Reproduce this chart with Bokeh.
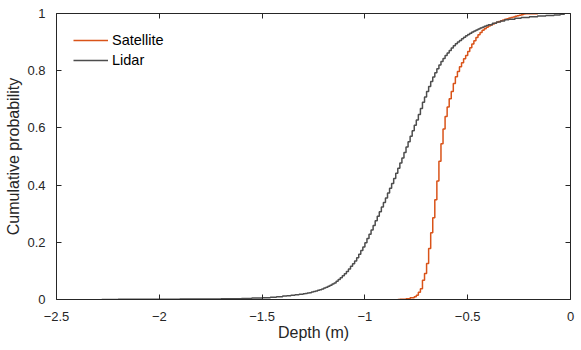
from bokeh.plotting import figure
from bokeh.models import Range1d, LinearAxis, FixedTicker, Legend, LegendItem
from bokeh.embed import file_html
from bokeh.resources import INLINE

# ---------------- data ----------------
sat_depth = [-0.84, -0.83, -0.80, -0.78, -0.76, -0.75, -0.74, -0.73, -0.72, -0.71,
             -0.70, -0.69, -0.68, -0.67, -0.66, -0.65, -0.64, -0.63, -0.62, -0.61,
             -0.60, -0.59, -0.58, -0.57, -0.56, -0.55, -0.54, -0.53, -0.52, -0.51,
             -0.50, -0.49, -0.48, -0.47, -0.46, -0.45, -0.44, -0.43, -0.42, -0.41,
             -0.40, -0.39, -0.38, -0.37, -0.36, -0.35, -0.34, -0.33, -0.32, -0.31,
             -0.30, -0.29, -0.28, -0.27, -0.26, -0.25, -0.24, -0.23, -0.22, -0.16]
sat_cdf = [0.000, 0.001, 0.003, 0.006, 0.010, 0.015, 0.025, 0.038, 0.067, 0.091,
           0.126, 0.178, 0.233, 0.286, 0.349, 0.414, 0.483, 0.545, 0.596, 0.640,
           0.673, 0.702, 0.727, 0.755, 0.779, 0.797, 0.814, 0.828, 0.842, 0.853,
           0.867, 0.880, 0.893, 0.905, 0.916, 0.926, 0.934, 0.941, 0.947, 0.952,
           0.956, 0.960, 0.963, 0.966, 0.969, 0.972, 0.975, 0.977, 0.980, 0.982,
           0.984, 0.986, 0.988, 0.990, 0.992, 0.994, 0.996, 0.998, 0.999, 1.000]

lidar_depth = [-2.28, -2.20, -2.10, -2.00, -1.90, -1.80, -1.70, -1.60, -1.55, -1.50,
               -1.46, -1.43, -1.40, -1.38, -1.36, -1.34, -1.32,
               -1.30, -1.29, -1.28, -1.27, -1.26, -1.25, -1.24, -1.23, -1.22, -1.21,
               -1.20, -1.19, -1.18, -1.17, -1.16, -1.15, -1.14, -1.13, -1.12, -1.11,
               -1.10, -1.09, -1.08, -1.07, -1.06, -1.05, -1.04, -1.03, -1.02, -1.01,
               -1.00, -0.99, -0.98, -0.97, -0.96, -0.95, -0.94, -0.93, -0.92, -0.91,
               -0.90, -0.89, -0.88, -0.87, -0.86, -0.85, -0.84, -0.83, -0.82, -0.81,
               -0.80, -0.79, -0.78, -0.77, -0.76, -0.75, -0.74, -0.73, -0.72, -0.71,
               -0.70, -0.69, -0.68, -0.67, -0.66, -0.65, -0.64, -0.63, -0.62, -0.61,
               -0.60, -0.59, -0.58, -0.57, -0.56, -0.55, -0.54, -0.53, -0.52, -0.51,
               -0.50, -0.49, -0.48, -0.47, -0.46, -0.45, -0.44, -0.43, -0.42, -0.41,
               -0.40, -0.38, -0.36, -0.34, -0.32, -0.30, -0.27, -0.24, -0.20, -0.16,
               -0.12, -0.08, -0.05, -0.03]
lidar_cdf = [0.0000, 0.0005, 0.0008, 0.0012, 0.0016, 0.0021, 0.0028, 0.0038, 0.0050, 0.0065,
             0.0080, 0.0100, 0.0120, 0.0135, 0.0150, 0.0165, 0.0180,
             0.020, 0.021, 0.023, 0.024, 0.026, 0.028, 0.030, 0.032, 0.034, 0.037,
             0.040, 0.043, 0.046, 0.050, 0.054, 0.058, 0.064, 0.070, 0.076, 0.083,
             0.090, 0.098, 0.107, 0.116, 0.125, 0.135, 0.146, 0.158, 0.171, 0.184,
             0.198, 0.213, 0.228, 0.243, 0.259, 0.275, 0.291, 0.307, 0.323, 0.339,
             0.355, 0.372, 0.389, 0.406, 0.423, 0.441, 0.459, 0.477, 0.495, 0.514,
             0.533, 0.552, 0.571, 0.590, 0.609, 0.628, 0.647, 0.668, 0.690, 0.708,
             0.727, 0.745, 0.762, 0.778, 0.793, 0.807, 0.820, 0.832, 0.843, 0.853,
             0.862, 0.871, 0.879, 0.887, 0.894, 0.900, 0.906, 0.912, 0.917, 0.922,
             0.927, 0.931, 0.935, 0.939, 0.942, 0.946, 0.949, 0.952, 0.955, 0.958,
             0.961, 0.966, 0.970, 0.974, 0.978, 0.980, 0.983, 0.986, 0.989, 0.991,
             0.993, 0.995, 0.997, 1.000]

x_ticks = [-2.5, -2.0, -1.5, -1.0, -0.5, 0.0]
x_tick_labels = ["\u22122.5", "\u22122", "\u22121.5", "\u22121", "\u22120.5", "0"]
y_ticks = [0.0, 0.2, 0.4, 0.6, 0.8, 1.0]
y_tick_labels = ["0", "0.2", "0.4", "0.6", "0.8", "1"]

series_names = ["Satellite", "Lidar"]
series_colors = ["#D95319", "#4D4D4D"]

# ---------------- figure ----------------
FONT = "Liberation Sans"
TXT = "#262626"

p = figure(width=581, height=350, output_backend="svg", toolbar_location=None,
           x_range=Range1d(-2.5, 0.0), y_range=Range1d(0.0, 1.0),
           min_border_left=56, min_border_right=11, min_border_top=13, min_border_bottom=51)
p.background_fill_color = "white"
p.border_fill_color = "white"
p.outline_line_color = None
p.xgrid.visible = False
p.ygrid.visible = False

def style_axis(ax, ticks, labels, show_labels=True):
    ax.ticker = FixedTicker(ticks=ticks)
    ax.axis_line_color = TXT
    ax.axis_line_width = 1
    ax.major_tick_line_color = TXT
    ax.major_tick_in = 5
    ax.major_tick_out = 0
    ax.minor_tick_line_color = None
    ax.major_label_text_font = FONT
    if show_labels:
        ax.major_label_overrides = {t: l for t, l in zip(ticks, labels)}
        ax.major_label_text_color = TXT
        ax.major_label_text_font_size = "13px"
    else:
        ax.major_label_text_color = None
        ax.major_label_text_font_size = "1px"
        ax.major_label_standoff = 0

style_axis(p.xaxis[0], x_ticks, x_tick_labels)
style_axis(p.yaxis[0], y_ticks, y_tick_labels)
p.xaxis[0].major_label_standoff = 12
p.yaxis[0].major_label_standoff = 11
p.xaxis.axis_label = "Depth (m)"
p.yaxis.axis_label = "Cumulative probability"
for ax in (p.xaxis[0], p.yaxis[0]):
    ax.axis_label_text_font = FONT
    ax.axis_label_text_font_size = "16px"
    ax.axis_label_text_font_style = "normal"
    ax.axis_label_text_color = TXT
p.xaxis[0].axis_label_standoff = 0
p.yaxis[0].axis_label_standoff = 2

top_ax = LinearAxis()
right_ax = LinearAxis()
style_axis(top_ax, x_ticks, x_tick_labels, show_labels=False)
style_axis(right_ax, y_ticks, y_tick_labels, show_labels=False)
p.add_layout(top_ax, "above")
p.add_layout(right_ax, "right")

r_sat = p.step(sat_depth, sat_cdf, mode="after", line_color=series_colors[0], line_width=1.5)
r_lid = p.step(lidar_depth, lidar_cdf, mode="after", line_color=series_colors[1], line_width=1.5)

legend = Legend(items=[LegendItem(label=series_names[0], renderers=[r_sat]),
                       LegendItem(label=series_names[1], renderers=[r_lid])],
                location="top_left")
legend.border_line_color = None
legend.background_fill_alpha = 0
legend.margin = 17
legend.padding = 0
legend.spacing = 0
legend.label_height = 20
legend.glyph_height = 20
legend.glyph_width = 35
legend.label_standoff = 4
legend.label_text_font = FONT
legend.label_text_font_size = "14.5px"
legend.label_text_color = "#000000"
p.add_layout(legend, "center")

open("out.html", "w").write(file_html(p, INLINE))
